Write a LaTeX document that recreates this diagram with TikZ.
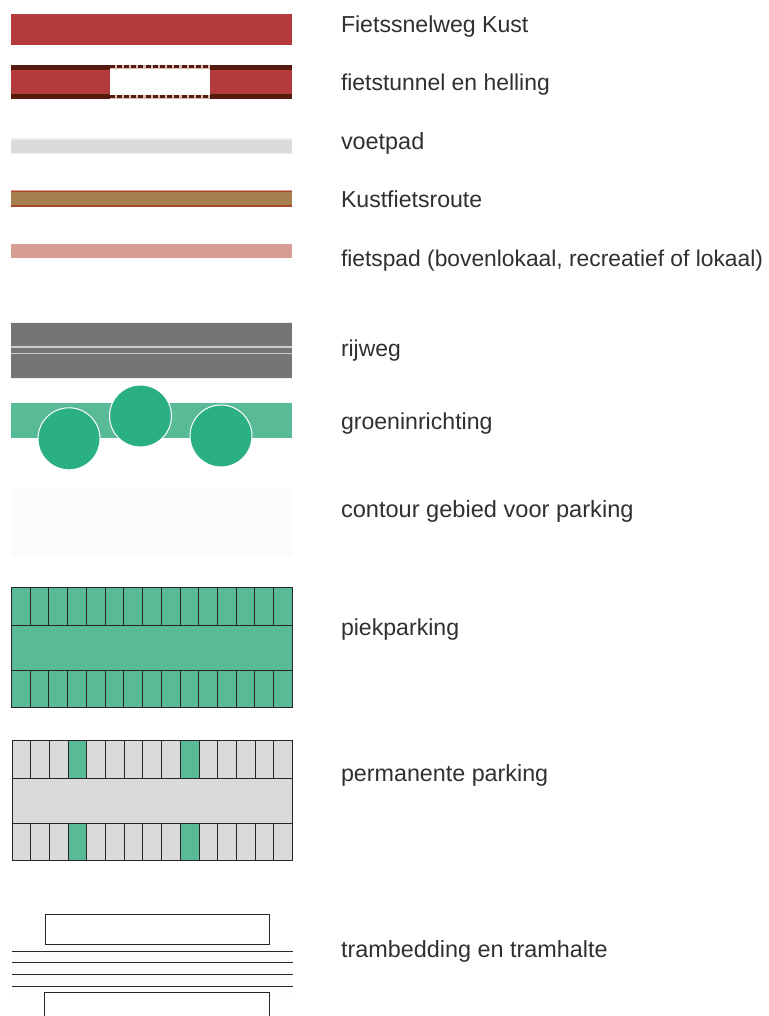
\documentclass[tikz,border=0pt]{standalone}
\usepackage{fontspec}
\setmainfont{Liberation Sans}
\definecolor{fsred}{HTML}{B53A3C}
\definecolor{fsdark}{HTML}{541B0E}
\definecolor{fsgap}{HTML}{D9BDB5}
\definecolor{fsgray}{HTML}{DADADA}
\definecolor{fsbrown}{HTML}{A67F4E}
\definecolor{fsbrownline}{HTML}{A8472C}
\definecolor{fspink}{HTML}{D69E94}
\definecolor{fsroad}{HTML}{757575}
\definecolor{fsroadline}{HTML}{CCCCCC}
\definecolor{fsgreen}{HTML}{59BA96}
\definecolor{fstree}{HTML}{2BB086}
\definecolor{fspale}{HTML}{FBFBFB}
\definecolor{fstext}{HTML}{303030}
\tikzset{
  x=1pt,y=-1pt,
  label text/.style={anchor=base west,inner sep=0pt,outer sep=0pt,text=fstext,font=\fontsize{#1}{26}\selectfont},
  label text/.default=23.1,
  tree/.style={circle,draw=white,line width=1pt,fill=fstree,minimum size=62pt,inner sep=0pt},
  lot/.style={draw=black!85,line width=1pt},
  tunnel edge/.style={fsdark,line width=3pt,dash pattern=on 5pt off 2.2pt},
  tunnel base/.style={fsgap,line width=3.4pt}
}
\begin{document}
\begin{tikzpicture}
\useasboundingbox[fill=white] (0,0) rectangle (768,1016);
% Fietssnelweg
\fill[fsred] (11,14) rectangle (292,45);
% fietstunnel
\draw[tunnel base] (109.5,67) -- (210,67);
\draw[tunnel base] (109.5,97) -- (210,97);
\draw[tunnel edge] (109.5,67) -- (210,67);
\draw[tunnel edge] (109.5,97) -- (210,97);
\fill[fsred] (11,70) rectangle (109.5,94);
\fill[fsred] (210,70) rectangle (292,94);
\fill[fsdark] (11,65) rectangle (109.5,70);
\fill[fsdark] (11,94.5) rectangle (109.5,99.5);
\fill[fsdark] (210,65) rectangle (292,70);
\fill[fsdark] (210,94.5) rectangle (292,99.5);
% voetpad
\fill[fsgray!45] (11,138.5) rectangle (292,154.5);
\fill[fsgray] (11,140) rectangle (292,153);
% Kustfietsroute
\fill[fspink] (11,190) rectangle (292,191);
\fill[fsbrown] (11,191) rectangle (292,207);
\fill[fsbrownline] (11,191) rectangle (292,192);
\fill[fsbrownline] (11,205.5) rectangle (292,207);
% fietspad
\fill[fspink] (11,244) rectangle (292,258);
% rijweg
\fill[fsroad!12] (10.5,321.5) rectangle (292,378.5);
\fill[fsroad] (11,322.7) rectangle (292,378);
\draw[fsroadline,line width=1.2pt] (11,347) -- (292,347);
\draw[fsroadline,line width=1.2pt] (11,353.5) -- (292,353.5);
% groeninrichting
\fill[fsgreen] (11,403) rectangle (292,438);
\node[tree] (t1) at (69,438.8) {};
\node[tree] (t2) at (140.5,416) {};
\node[tree] (t3) at (221,436) {};
% contour
\fill[fspale] (11,489) rectangle (292,556);
% piekparking
\fill[fsgreen] (11.5,587.5) rectangle (292.5,707.5);
\foreach \i in {1,...,14} {
  \draw[lot] ({11.5+\i*18.73},587.5) -- ({11.5+\i*18.73},625);
  \draw[lot] ({11.5+\i*18.73},670) -- ({11.5+\i*18.73},707.5);
}
\draw[lot] (11.5,625) -- (292.5,625);
\draw[lot] (11.5,670) -- (292.5,670);
\draw[lot] (11.5,587.5) rectangle (292.5,707.5);
% permanente parking
\fill[fsgray] (12,740.5) rectangle (292.5,860.5);
\foreach \i in {3,9} {
  \fill[fsgreen] ({12+\i*18.7},740.5) rectangle ({12+(\i+1)*18.7},778);
  \fill[fsgreen] ({12+\i*18.7},823) rectangle ({12+(\i+1)*18.7},860.5);
}
\foreach \i in {1,...,14} {
  \draw[lot] ({12+\i*18.7},740.5) -- ({12+\i*18.7},778);
  \draw[lot] ({12+\i*18.7},823) -- ({12+\i*18.7},860.5);
}
\draw[lot] (12,778) -- (292.5,778);
\draw[lot] (12,823) -- (292.5,823);
\draw[lot] (12,740.5) rectangle (292.5,860.5);
% tram
\fill[fspale] (12,944.5) rectangle (293,993);
\draw[lot,fill=white] (45.5,914.5) rectangle (269.5,944.5);
\foreach \y in {951,962.5,974.5,986} \draw[lot] (12,\y) -- (293,\y);
\draw[lot,fill=white] (44.5,992.5) rectangle (269,1030);
% labels
\node[label text] (l1) at (341,32.6) {Fietssnelweg Kust};
\node[label text=22.9] (l2) at (341,91) {fietstunnel en helling};
\node[label text=23.4] (l3) at (341,149.6) {voetpad};
\node[label text] (l4) at (341,208) {Kustfietsroute};
\node[label text=22.8] (l5) at (341,266.6) {fietspad (bovenlokaal, recreatief of lokaal)};
\node[label text=22.9] (l6) at (341,356) {rijweg};
\node[label text] (l7) at (341,429.6) {groeninrichting};
\node[label text=23.6] (l8) at (341,517) {contour gebied voor parking};
\node[label text] (l9) at (341,635.6) {piekparking};
\node[label text=23.3] (l10) at (341,781.6) {permanente parking};
\node[label text=23.4] (l11) at (341,957) {trambedding en tramhalte};
\end{tikzpicture}
\end{document}
